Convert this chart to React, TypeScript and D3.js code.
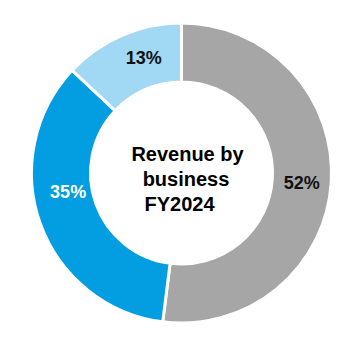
import React from "react";
import * as d3 from "d3";

const categories = ["Segment A", "Segment B", "Segment C"];
const values = [52, 35, 13];
const labels = ["52%", "35%", "13%"];
const colors = ["#a6a6a6", "#029ee1", "#a1d8f4"];
const labelColors = ["#111111", "#ffffff", "#111111"];
const titleLines = ["Revenue by", "business", "FY2024"];

const W = 364;
const H = 344;
const cx = 181.5;
const cy = 173;
const outerR = 150;
const innerR = 91;
// small manual nudges for the label placement (dx, dy)
const labelNudge: [number, number][] = [
  [0, 2],
  [0, -22],
  [10, -5],
];
const titleDx = [6, 4.5, -2];

export default function App() {
  const pie = d3
    .pie<number>()
    .sort(null)
    .value((d) => d);
  const arcs = pie(values);
  const arc = d3
    .arc<d3.PieArcDatum<number>>()
    .innerRadius(innerR)
    .outerRadius(outerR);

  return (
    <>
      <style>{`body{margin:0}`}</style>
      <svg width={W} height={H} style={{ display: "block", background: "#fff" }}>
        <g transform={`translate(${cx},${cy})`}>
          {arcs.map((a, i) => (
            <path
              key={categories[i]}
              d={arc(a) || ""}
              fill={colors[i]}
              stroke="#ffffff"
              strokeWidth={3}
            />
          ))}
          {arcs.map((a, i) => {
            const [x, y] = arc.centroid(a);
            return (
              <text
                key={"l" + i}
                x={x + labelNudge[i][0]}
                y={y + labelNudge[i][1]}
                dy="0.35em"
                textAnchor="middle"
                fontFamily="'Liberation Sans', Arial, sans-serif"
                fontWeight="bold"
                fontSize={18}
                fill={labelColors[i]}
              >
                {labels[i]}
              </text>
            );
          })}
          {titleLines.map((t, i) => (
            <text
              key={"t" + i}
              x={titleDx[i]}
              y={-12 + i * 25}
              textAnchor="middle"
              fontFamily="'Liberation Sans', Arial, sans-serif"
              fontWeight="bold"
              fontSize={20}
              fill="#000"
            >
              {t}
            </text>
          ))}
        </g>
      </svg>
    </>
  );
}
